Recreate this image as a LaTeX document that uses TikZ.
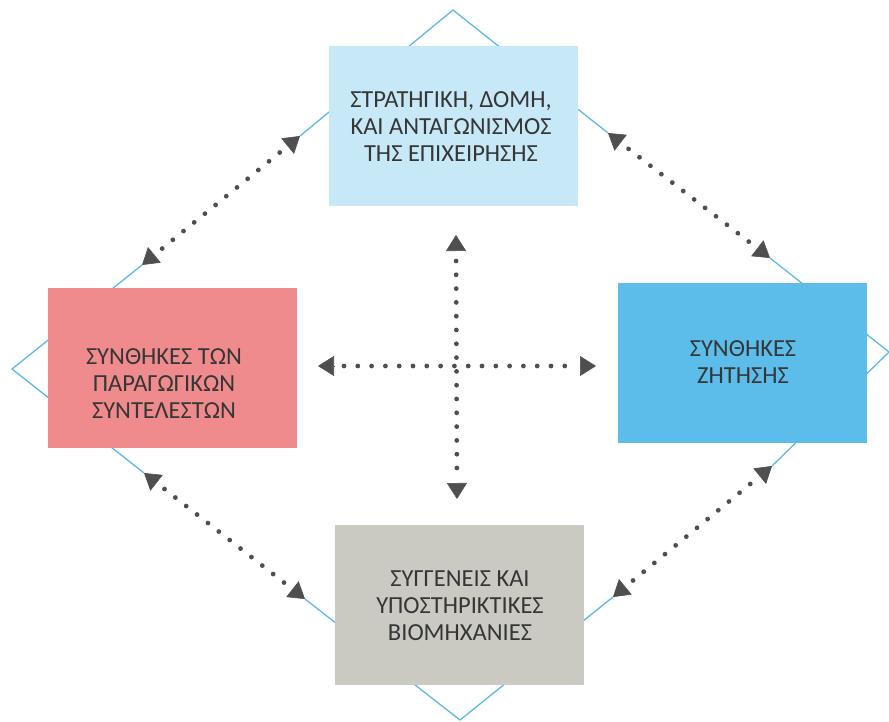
\documentclass[tikz,border=0pt]{standalone}
\usepackage{fontspec}
\setmainfont{Carlito}
\usetikzlibrary{arrows.meta,calc,decorations.markings}
\definecolor{diam}{HTML}{5DB9E2}
\definecolor{topc}{HTML}{C6E8F7}
\definecolor{leftc}{HTML}{EF8B8C}
\definecolor{rightc}{HTML}{5DBDEA}
\definecolor{botc}{HTML}{CACAC3}
\definecolor{arr}{HTML}{4F4F4F}
\definecolor{txt}{HTML}{363636}
\begin{document}
\begin{tikzpicture}[x=1pt,y=-1pt,
  box/.style={draw=none, inner sep=0pt, minimum width=249pt, minimum height=160pt},
  lbl/.style={text=txt, align=center, inner sep=0pt, font=\fontsize{24.5}{27}\selectfont},
  diamline/.style={draw=diam, line width=1.3pt, line join=miter},
  dotline/.style={decorate, decoration={markings,
    mark=between positions 26pt and -24pt step 13.8pt with {\fill[arr] (0,0) circle (2.4pt);}}},
  headline/.style={draw=arr, fill=arr, line width=0.6pt, solid,
    -{Triangle[length=16pt,width=20pt]}}
]
\useasboundingbox (0,0) rectangle (889,722);

% diamond outline (vertices and arrow tips on its edges)
\coordinate (T) at (453,10);
\coordinate (R) at (889,352);
\coordinate (B) at (460,720);
\coordinate (L) at (12,369);
\coordinate (tr1) at (608,133);
\coordinate (tr2) at (770,258);
\coordinate (br2) at (772,466);
\coordinate (br1) at (613,597);
\coordinate (bl2) at (305,599);
\coordinate (bl1) at (144,473);
\coordinate (tl1) at (142,265);
\coordinate (tl2) at (300,136);
\coordinate (hL) at (318,366);
\coordinate (hR) at (596,366);
\coordinate (vT) at (456,235);
\coordinate (vB) at (457,499);

\draw[diamline] (tl2) -- (T) -- (tr1);
\draw[diamline] (tr2) -- (R) -- (br2);
\draw[diamline] (br1) -- (B) -- (bl2);
\draw[diamline] (bl1) -- (L) -- (tl1);

% boxes
\node[box, fill=topc]   (top)   at (453,126) {};
\node[box, fill=leftc]  (left)  at (172,368) {};
\node[box, fill=rightc] (right) at (742,363) {};
\node[box, fill=botc]   (bot)   at (459,605) {};

% texts
\node[lbl] (ttop) at (451,127) {ΣΤΡΑΤΗΓΙΚΗ, ΔΟΜΗ,\\ΚΑΙ ΑΝΤΑΓΩΝΙΣΜΟΣ\\ΤΗΣ ΕΠΙΧΕΙΡΗΣΗΣ};
\node[lbl] (tleft) at (164,384) {ΣΥΝΘΗΚΕΣ ΤΩΝ\\ΠΑΡΑΓΩΓΙΚΩΝ\\ΣΥΝΤΕΛΕΣΤΩΝ};
\node[lbl] (tright) at (743,362) {ΣΥΝΘΗΚΕΣ\\ΖΗΤΗΣΗΣ};
\node[lbl] (tbot) at (460,606) {ΣΥΓΓΕΝΕΙΣ ΚΑΙ\\ΥΠΟΣΤΗΡΙΚΤΙΚΕΣ\\ΒΙΟΜΗΧΑΝΙΕΣ};

% dotted double arrows
\foreach \a/\b in {tl1/tl2, tr1/tr2, bl1/bl2, br1/br2, hL/hR, vT/vB}{
  \path[dotline] (\a) -- (\b);
  \draw[headline] ($(\a)!16pt!(\b)$) -- (\a);
  \draw[headline] ($(\b)!16pt!(\a)$) -- (\b);
}
\end{tikzpicture}
\end{document}
